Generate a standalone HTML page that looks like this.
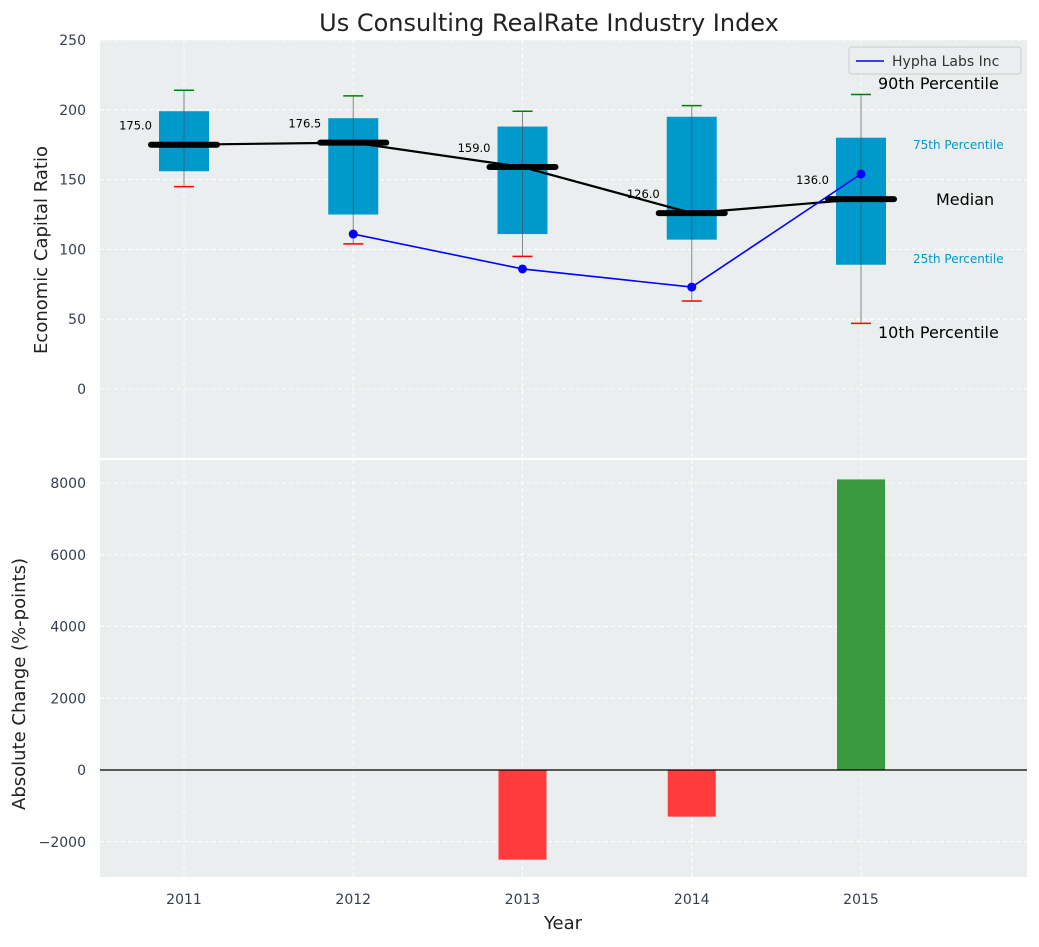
<!DOCTYPE html>
<html><head><meta charset="utf-8"><style>
body{margin:0;background:#fff;font-family:"Liberation Sans","DejaVu Sans",sans-serif;}
svg text{font-family:"DejaVu Sans","Liberation Sans",sans-serif;}
</style></head><body>
<svg id="c" width="1039" height="942" xmlns="http://www.w3.org/2000/svg"></svg>
<script>
const years=[2011,2012,2013,2014,2015];
const p90=[214,210,199,203,211];
const p75=[199,194,188,195,180];
const med=[175,176.5,159,126,136];
const p25=[156,125,111,107,89];
const p10=[145,104,95,63,47];
const hyphaYears=[2012,2013,2014,2015];
const hypha=[111,86,73,154];
const changes=[0,0,-2500,-1300,8100];
const topTicks=[0,50,100,150,200,250];
const botTicks=[-2000,0,2000,4000,6000,8000];

const NS="http://www.w3.org/2000/svg",svg=document.getElementById('c');
function el(t,a,txt,p){const e=document.createElementNS(NS,t);for(const k in a)e.setAttribute(k,a[k]);if(txt!=null)e.textContent=txt;(p||svg).appendChild(e);return e;}
const L=100,R=1027;
const x=v=>184+(v-2011)*169.25;
const yT=v=>389-v*1.396;
const yB=v=>770-v*0.035875;
const tT=40,bT=458,tB=460,bB=877;

let g=el('rect',{x:L,y:tT,width:R-L,height:bT-tT,fill:'#eaeeee'});

g=el('rect',{x:L,y:tB,width:R-L,height:bB-tB,fill:'#eaeeee'});


// grids
years.forEach(v=>{
 el('line',{x1:x(v),x2:x(v),y1:tT,y2:bT,stroke:'#fff','stroke-dasharray':'4,3','stroke-width':1});
 el('line',{x1:x(v),x2:x(v),y1:tB,y2:bB,stroke:'#fff','stroke-dasharray':'4,3','stroke-width':1});
 const t=el('text',{x:x(v),y:904,'text-anchor':'middle','font-size':14,fill:'#333f50'},v);
 
});
topTicks.forEach(v=>{
 el('line',{x1:L,x2:R,y1:yT(v),y2:yT(v),stroke:'#fff','stroke-dasharray':'4,3'});
 const t=el('text',{x:86,y:yT(v)+5,'text-anchor':'end','font-size':14,fill:'#333f50'},v);
 
});
botTicks.forEach(v=>{
 el('line',{x1:L,x2:R,y1:yB(v),y2:yB(v),stroke:'#fff','stroke-dasharray':'4,3'});
 const t=el('text',{x:86,y:yB(v)+5,'text-anchor':'end','font-size':14,fill:'#333f50'},(v<0?'\u2212':'')+Math.abs(v));
 
});

// boxes
years.forEach((v,i)=>{
 const cx=x(v);
 let e=el('line',{x1:cx,x2:cx,y1:yT(p90[i]),y2:yT(p10[i]),stroke:'#888','stroke-width':1});
 
 e=el('rect',{x:cx-25,y:yT(p75[i]),width:50,height:yT(p25[i])-yT(p75[i]),fill:'#0099cc'});
 
 el('line',{x1:cx,x2:cx,y1:yT(p75[i]),y2:yT(p25[i]),stroke:'#336677','stroke-width':1});
 e=el('line',{x1:cx-10,x2:cx+10,y1:yT(p90[i]),y2:yT(p90[i]),stroke:'green','stroke-width':1.5});
 
 e=el('line',{x1:cx-10,x2:cx+10,y1:yT(p10[i]),y2:yT(p10[i]),stroke:'red','stroke-width':1.5});
 
});
// median line
let mp=years.map((v,i)=>x(v)+','+yT(med[i])).join(' ');
let ml=el('polyline',{points:mp,fill:'none',stroke:'#000','stroke-width':2.2});

years.forEach((v,i)=>{
 const cx=x(v);
 let e=el('line',{x1:cx-33,x2:cx+33,y1:yT(med[i]),y2:yT(med[i]),stroke:'#000','stroke-width':6,'stroke-linecap':'round'});
 
 e=el('text',{x:cx-32,y:yT(med[i])-15,'text-anchor':'end','font-size':11.5,fill:'#000'},med[i].toFixed(1));
 
});
// hypha
let hp=hyphaYears.map((v,i)=>x(v)+','+yT(hypha[i])).join(' ');
let hl=el('polyline',{points:hp,fill:'none',stroke:'blue','stroke-width':1.6});

hyphaYears.forEach((v,i)=>{
 const c=el('circle',{cx:x(v),cy:yT(hypha[i]),r:4.5,fill:'blue'});
 
});
// annotations
[[878,89,'90th Percentile',16,'#000'],[913,149,'75th Percentile',12,'#0099cc'],[936,205,'Median',16,'#000'],[913,263,'25th Percentile',12,'#0099cc'],[878,338,'10th Percentile',16,'#000']].forEach(a=>{
 const t=el('text',{x:a[0],y:a[1],'font-size':a[3],fill:a[4]},a[2]);
 
});
// legend
let lg=el('g',{});
el('rect',{x:849,y:47,width:172,height:27,rx:3,fill:'#eaeeee',stroke:'#ccc'},null,lg);
el('line',{x1:856,x2:884,y1:61,y2:61,stroke:'blue','stroke-width':1.6},null,lg);
el('text',{x:892,y:66,'font-size':14,fill:'#333'},'Hypha Labs Inc',lg);

// bars
years.forEach((v,i)=>{
 if(!changes[i])return;
 const y0=yB(0),y1=yB(changes[i]);
 const b=el('rect',{x:x(v)-24,y:Math.min(y0,y1),width:48,height:Math.abs(y1-y0),fill:changes[i]>0?'#3a9a3e':'#ff3b3b'});
 
});
el('line',{x1:L,x2:R,y1:yB(0),y2:yB(0),stroke:'#000','stroke-width':1.2});

// titles
let t=el('text',{x:549,y:31,'text-anchor':'middle','font-size':24,fill:'#222'},'Us Consulting RealRate Industry Index');

t=el('text',{x:0,y:0,'text-anchor':'middle','font-size':18,fill:'#222',transform:'translate(47,250) rotate(-90)'},'Economic Capital Ratio');

t=el('text',{x:0,y:0,'text-anchor':'middle','font-size':18,fill:'#222',transform:'translate(25,684) rotate(-90)'},'Absolute Change (%-points)');

t=el('text',{x:563,y:929,'text-anchor':'middle','font-size':18,fill:'#222'},'Year');

</script>
</body></html>
